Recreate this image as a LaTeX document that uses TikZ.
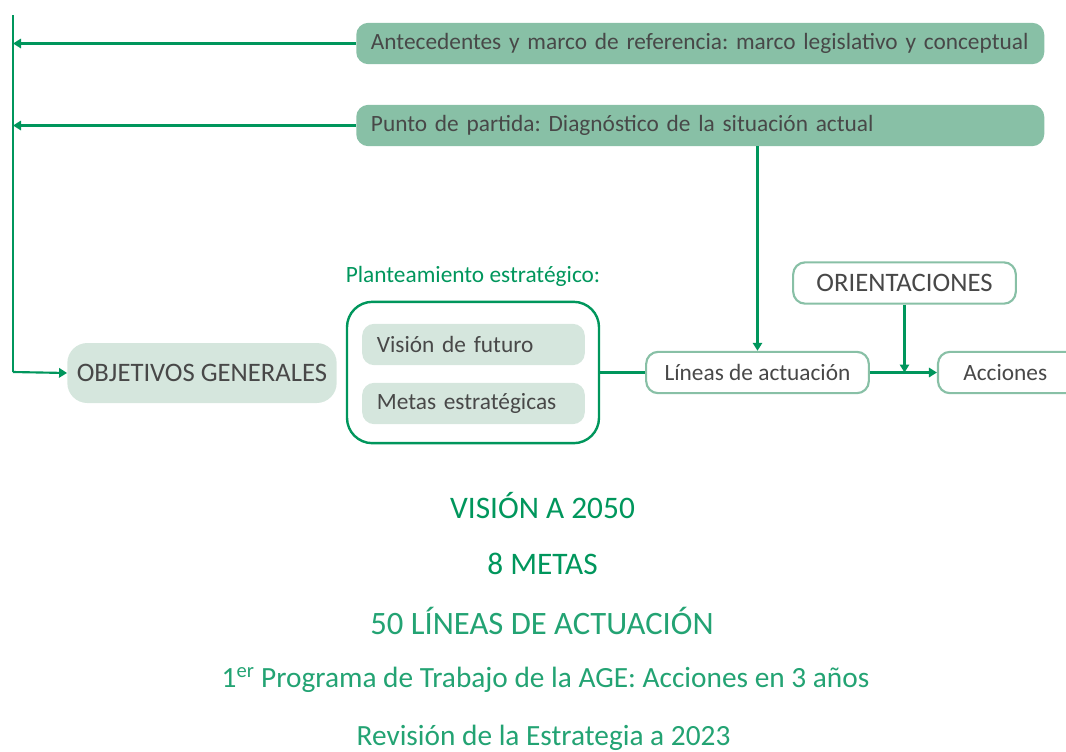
\documentclass[tikz,border=0pt]{standalone}
\usepackage{fontspec}
\setmainfont{Carlito}
\usetikzlibrary{arrows.meta}
\definecolor{dgreen}{RGB}{0,150,92}
\definecolor{tgreen}{RGB}{35,163,115}
\definecolor{mgreen}{RGB}{136,192,166}
\definecolor{lgreen}{RGB}{213,230,221}
\definecolor{tgray}{RGB}{72,72,72}
\tikzset{
  bodyfont/.style={font=\fontsize{17.5}{20}\selectfont},
  capsfont/.style={font=\fontsize{20}{22}\selectfont},
  topbox/.style={fill=mgreen, rounded corners=9pt, minimum height=31pt, text width=494pt, inner xsep=11pt, align=left, text=tgray, bodyfont, anchor=west},
  softbox/.style={fill=lgreen, rounded corners=9pt, text=tgray, bodyfont},
  linebox/.style={draw=mgreen, line width=1.6pt, fill=white, rounded corners=9pt, minimum height=31pt, text=tgray, bodyfont},
  conn/.style={draw=dgreen, line width=1.6pt},
  arr/.style={conn, -{Triangle[length=6pt,width=7pt]}},
  btm/.style={text=dgreen, anchor=center},
  btmlight/.style={text=tgreen, anchor=center, font=\fontsize{22}{26}\selectfont},
}
\begin{document}
\frenchspacing
\begin{tikzpicture}[x=0.75pt,y=-0.75pt]
\useasboundingbox (0,0) rectangle (1066,751);
\clip (0,0) rectangle (1066,751);
% top boxes
\node[topbox] (ante) at (356,43.5) {Antecedentes y marco de referencia: marco legislativo y conceptual};
\node[topbox] (punto) at (356,125.5) {Punto de partida: Diagn\'ostico de la situaci\'on actual};
% left spine
\coordinate (sTop) at (13,15);
\coordinate (sBot) at (13,372);
\coordinate (s1) at (13,43.5);
\coordinate (s2) at (13,125.5);
% objetivos
\node[softbox, capsfont, minimum width=202pt, minimum height=45pt, rounded corners=15pt] (obj) at (202,373) {OBJETIVOS GENERALES};
% planteamiento
\node[text=dgreen, bodyfont] (plan) at (473,276) {Planteamiento estrat\'egico:};
\node[draw=dgreen, line width=1.8pt, rounded corners=19pt, minimum width=189pt, minimum height=106pt] (big) at (473,372.5) {};
\node[softbox, minimum width=167pt, minimum height=31pt, text width=145pt, align=left, inner xsep=11pt] (vis) at (473.5,344.5) {Visi\'on de futuro};
\node[softbox, minimum width=167pt, minimum height=31pt, text width=145pt, align=left, inner xsep=11pt] (metas) at (473.5,403.5) {Metas estrat\'egicas};
% right chain
\node[linebox, minimum width=167pt] (lin) at (757.5,372.5) {L\'ineas de actuaci\'on};
\node[linebox, capsfont, minimum width=167pt] (ori) at (904.5,283) {ORIENTACIONES};
\node[linebox, minimum width=120pt, text width=82pt, align=left, inner xsep=19pt] (acc) at (1018,372.5) {Acciones};
\coordinate (join) at (ori.south |- lin.east);
% connectors
\draw[conn] (sTop) -- (sBot);
\draw[arr] (ante.west) -- (s1);
\draw[arr] (punto.west) -- (s2);
\draw[arr] (sBot) -- (obj.west);
\draw[arr] (punto.south -| lin.north) -- (lin.north);
\draw[conn] (big.east) -- (lin.west);
\draw[arr] (lin.east) -- (acc.west);
\draw[arr] (ori.south) -- (join);
% bottom text
\node[btm, font=\fontsize{23.5}{26}\selectfont] (t1) at (542.5,506) {VISI\'ON A 2050};
\node[btm, font=\fontsize{23.5}{26}\selectfont] (t2) at (542.5,564) {8 METAS};
\node[btmlight, font=\fontsize{24.5}{28}\selectfont] (t3) at (542,621) {50 L\'INEAS DE ACTUACI\'ON};
\node[btmlight] (t4) at (545.5,680) {1\textsuperscript{er} Programa de Trabajo de la AGE: Acciones en 3 a\~nos};
\node[btmlight] (t5) at (543.5,738) {Revisi\'on de la Estrategia a 2023};
\end{tikzpicture}
\end{document}
